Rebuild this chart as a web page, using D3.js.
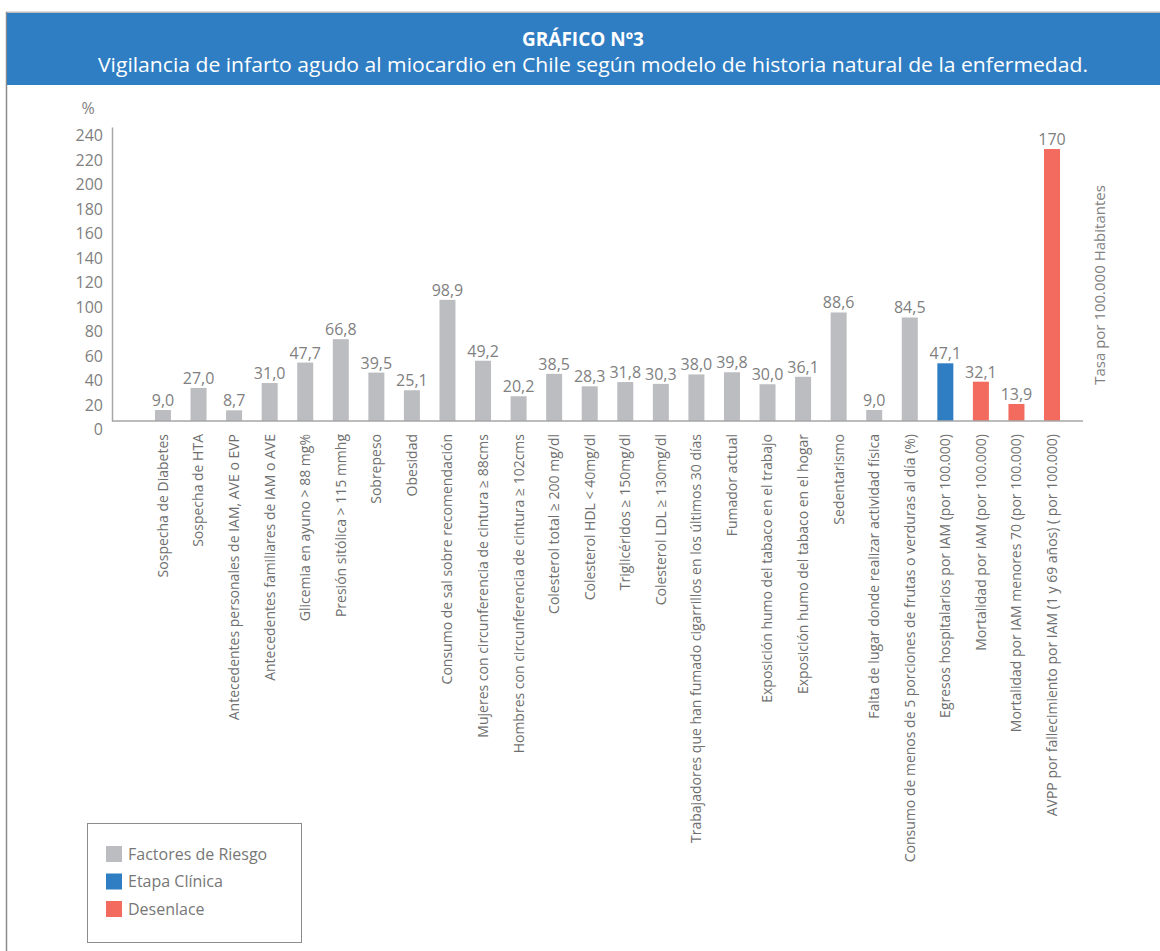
<!DOCTYPE html>
<html>
<head>
<meta charset="utf-8">
<script src="https://cdn.jsdelivr.net/npm/d3@7"></script>
<style>
    body { margin: 0; background: #fff; }
    svg { display: block; font-family: "Open Sans", "Noto Sans", sans-serif; }
</style>
</head>
<body>
<svg id="svg-main" width="1160" height="951"></svg>
<script>
var categories = [
    "Sospecha de Diabetes",
    "Sospecha de HTA",
    "Antecedentes personales de IAM, AVE o EVP",
    "Antecedentes familiares de IAM o AVE",
    "Glicemia en ayuno > 88 mg%",
    "Presión sitólica > 115 mmhg",
    "Sobrepeso",
    "Obesidad",
    "Consumo de sal sobre recomendación",
    "Mujeres con circunferencia de cintura ≥ 88cms",
    "Hombres con circunferencia de cintura ≥ 102cms",
    "Colesterol total ≥ 200 mg/dl",
    "Colesterol HDL < 40mg/dl",
    "Triglicéridos ≥ 150mg/dl",
    "Colesterol LDL ≥ 130mg/dl",
    "Trabajadores que han fumado cigarrillos en los últimos 30 días",
    "Fumador actual",
    "Exposición humo del tabaco en el trabajo",
    "Exposición humo del tabaco en el hogar",
    "Sedentarismo",
    "Falta de lugar donde realizar actividad física",
    "Consumo de menos de 5 porciones de frutas o verduras al día (%)",
    "Egresos hospitalarios  por IAM (por 100.000)",
    "Mortalidad por IAM (por 100.000)",
    "Mortalidad por IAM menores 70 (por 100.000)",
    "AVPP por fallecimiento por IAM (1 y 69 años) ( por 100.000)"
];

// bar heights as drawn in the picture (the last bar is drawn taller than its label)
var values = [9.0, 27.0, 8.7, 31.0, 47.7, 66.8, 39.5, 25.1, 98.9, 49.2, 20.2, 38.5, 28.3,
    31.8, 30.3, 38.0, 39.8, 30.0, 36.1, 88.6, 9.0, 84.5, 47.1, 32.1, 13.9, 222];

var valueLabels = ["9,0", "27,0", "8,7", "31,0", "47,7", "66,8", "39,5", "25,1", "98,9", "49,2",
    "20,2", "38,5", "28,3", "31,8", "30,3", "38,0", "39,8", "30,0", "36,1", "88,6", "9,0",
    "84,5", "47,1", "32,1", "13,9", "170"];

// 0 = Factores de Riesgo, 1 = Etapa Clínica, 2 = Desenlace
var groups = [0, 0, 0, 0, 0, 0, 0, 0, 0, 0, 0, 0, 0, 0, 0, 0, 0, 0, 0, 0, 0, 0, 1, 2, 2, 2];

var groupNames = ["Factores de Riesgo", "Etapa Clínica", "Desenlace"];
var groupColors = ["#bcbdc1", "#2f7ec3", "#f26b5e"];

var yTicks = [0, 20, 40, 60, 80, 100, 120, 140, 160, 180, 200, 220, 240];

var svg = d3.select("svg");

// frame and header band
svg.append("line")
    .attr("x1", 6).attr("x2", 1160).attr("y1", 12.5).attr("y2", 12.5)
    .attr("stroke", "#bdbdbd").attr("stroke-width", 2);
svg.append("line")
    .attr("x1", 6.5).attr("x2", 6.5).attr("y1", 12).attr("y2", 951)
    .attr("stroke", "#8c8c8c").attr("stroke-width", 1.5);
svg.append("rect")
    .attr("x", 7).attr("y", 13).attr("width", 1153).attr("height", 72)
    .attr("fill", "#2f7ec3");

svg.append("text")
    .attr("x", 583).attr("y", 46)
    .attr("text-anchor", "middle")
    .attr("fill", "#fff")
    .attr("font-size", 19)
    .attr("font-weight", "bold")
    .text("GRÁFICO Nº3");

svg.append("text")
    .attr("x", 593).attr("y", 72)
    .attr("text-anchor", "middle")
    .attr("fill", "#fff")
    .attr("font-size", 20)
    .attr("textLength", 990)
    .attr("lengthAdjust", "spacingAndGlyphs")
    .text("Vigilancia de infarto agudo al miocardio en Chile según modelo de historia natural de la enfermedad.");

var x = d3.scaleBand()
    .domain(categories)
    .range([145.2, 1069.8])
    .paddingInner(0.55)
    .paddingOuter(0.275);

var y = d3.scaleLinear()
    .domain([0, 240])
    .range([421, 127]);

// y axis
var yAxis = svg.append("g")
    .attr("transform", "translate(112,0)")
    .call(d3.axisLeft(y).tickValues(yTicks).tickSize(0).tickPadding(9));
yAxis.select(".domain").attr("stroke", "#a6a6a6").attr("stroke-width", 1.5);
yAxis.selectAll("text")
    .attr("fill", "#7f7f7f")
    .attr("font-size", 16)
    .attr("font-family", "'Open Sans', sans-serif")
    .attr("dy", "0.85em");

svg.append("text")
    .attr("x", 88).attr("y", 114)
    .attr("text-anchor", "middle")
    .attr("fill", "#7f7f7f")
    .attr("font-size", 16)
    .text("%");

// bars
svg.append("g")
    .selectAll("rect")
    .data(values)
    .enter().append("rect")
    .attr("x", function (d, i) { return x(categories[i]); })
    .attr("width", x.bandwidth())
    .attr("y", function (d) { return y(d); })
    .attr("height", function (d) { return y(0) - y(d); })
    .attr("fill", function (d, i) { return groupColors[groups[i]]; });

// x axis line
svg.append("line")
    .attr("x1", 112).attr("x2", 1083)
    .attr("y1", y(0)).attr("y2", y(0))
    .attr("stroke", "#a6a6a6").attr("stroke-width", 1.5);

// value labels
svg.append("g")
    .selectAll("text")
    .data(values)
    .enter().append("text")
    .attr("x", function (d, i) { return x(categories[i]) + x.bandwidth() / 2; })
    .attr("y", function (d) { return y(d) - 4; })
    .attr("text-anchor", "middle")
    .attr("fill", "#7f7f7f")
    .attr("font-size", 16)
    .text(function (d, i) { return valueLabels[i]; });

// category labels, rotated
svg.append("g")
    .selectAll("text")
    .data(categories)
    .enter().append("text")
    .attr("transform", function (d) {
        return "translate(" + (x(d) + x.bandwidth() / 2) + "," + 434 + ") rotate(-90)";
    })
    .attr("text-anchor", "end")
    .attr("dy", "0.35em")
    .attr("fill", "#6f6f6f")
    .attr("font-size", 14)
    .text(function (d) { return d; });

// right axis title
svg.append("text")
    .attr("transform", "translate(1100,285) rotate(-90)")
    .attr("text-anchor", "middle")
    .attr("dy", "0.35em")
    .attr("fill", "#7f7f7f")
    .attr("font-size", 15)
    .text("Tasa por 100.000 Habitantes");

// legend
var legend = svg.append("g");
legend.append("rect")
    .attr("x", 87.5).attr("y", 823.5).attr("width", 214).attr("height", 119)
    .attr("fill", "#fff").attr("stroke", "#8c8c8c").attr("stroke-width", 1);

var item = legend.selectAll("g.item")
    .data(groupNames)
    .enter().append("g")
    .attr("class", "item")
    .attr("transform", function (d, i) { return "translate(106," + (846 + i * 27.5) + ")"; });

item.append("rect")
    .attr("width", 16).attr("height", 16)
    .attr("fill", function (d, i) { return groupColors[i]; });

item.append("text")
    .attr("x", 22).attr("y", 8)
    .attr("dy", "0.35em")
    .attr("fill", "#777")
    .attr("font-size", 16)
    .text(function (d) { return d; });
</script>
</body>
</html>
